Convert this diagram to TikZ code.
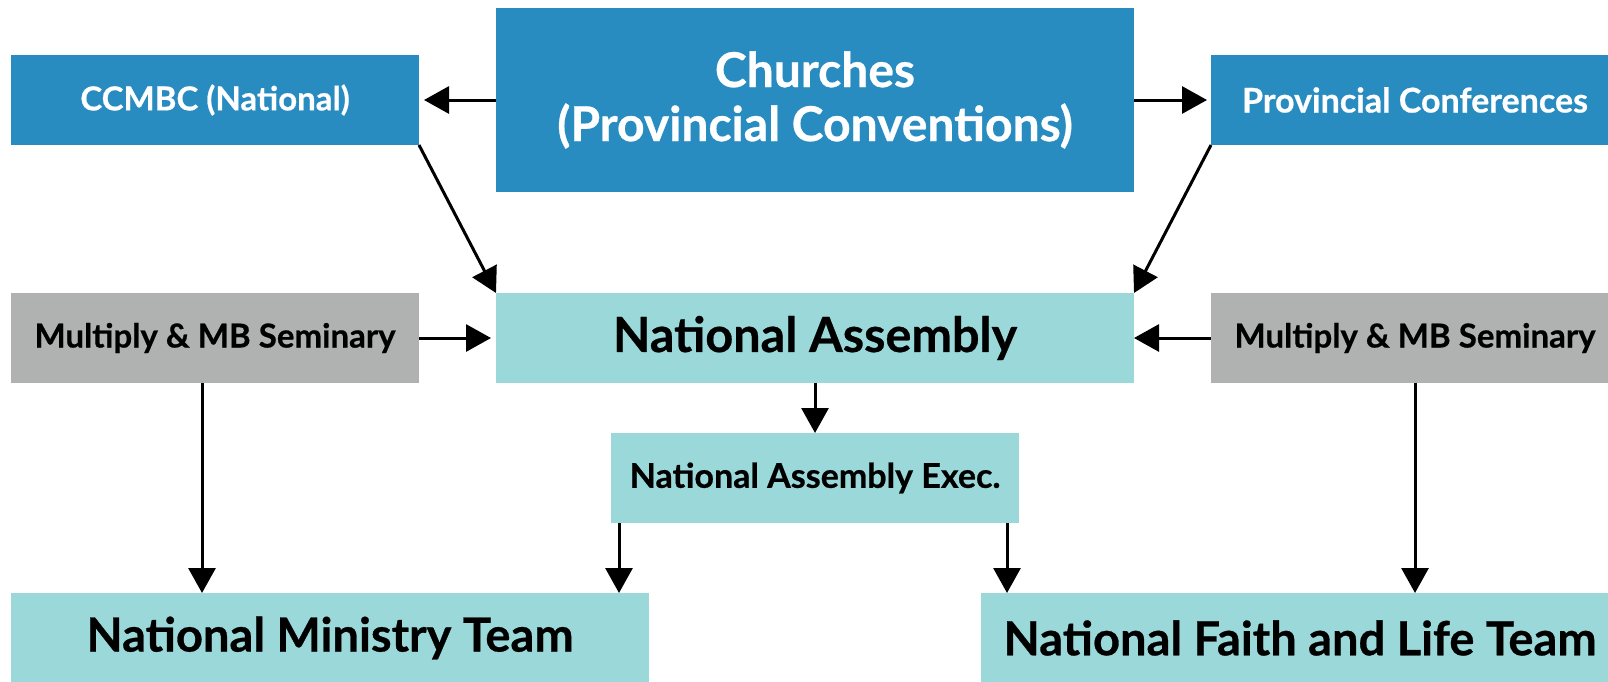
\documentclass[tikz,border=0pt]{standalone}
\usepackage{fontspec}
\setmainfont{Lato}[BoldFeatures={FakeBold=0.6}]
\usetikzlibrary{arrows.meta,calc}
\definecolor{blueBox}{HTML}{298CC1}
\definecolor{tealBox}{HTML}{9BD8D9}
\definecolor{grayBox}{HTML}{B0B1B1}
\begin{document}
\begin{tikzpicture}[x=1pt,y=-1pt,
  box/.style={inner sep=0pt, outer sep=0pt, anchor=north west, align=center,
    minimum width=408pt, minimum height=90pt},
  wide/.style={minimum width=638pt},
  bluebox/.style={box, fill=blueBox, text=white},
  tealbox/.style={box, fill=tealBox, text=black},
  graybox/.style={box, fill=grayBox, text=black},
  bigtxt/.style={font=\fontsize{47}{54}\selectfont\bfseries},
  smalltxt/.style={font=\fontsize{33}{38}\selectfont\bfseries},
  smalltxtwide/.style={font=\fontsize{34}{38}\selectfont\bfseries},
  arr/.style={line width=3pt, -{Triangle[length=25pt,width=27pt]}}]
\clip (0,0) rectangle (1608,681);

% top row
\node[bluebox, wide, minimum height=184pt, font=\fontsize{48}{54}\selectfont\bfseries]
  (churches) at (496,8) {Churches\\(Provincial Conventions)};
\node[bluebox, smalltxt] (ccmbc) at (11,55) {CCMBC (National)};
\node[bluebox, smalltxtwide] (prov) at (1211,55) {Provincial Conferences};

% middle row
\node[graybox, smalltxt] (semL) at (11,293) {Multiply \& MB Seminary};
\node[tealbox, wide, font=\fontsize{48.5}{54}\selectfont\bfseries]
  (assembly) at (496,293) {National Assembly};
\node[graybox, smalltxt] (semR) at (1211,293) {Multiply \& MB Seminary};

\node[tealbox, smalltxtwide] (exec) at (611,433) {National Assembly Exec.};

% bottom row
\node[tealbox, wide, bigtxt] (ministry) at (11,593) {National Ministry Team};
\node[tealbox, wide, bigtxt] (faith) at (981,593) {National Faith and Life Team};

% connectors
\draw[arr, shorten >=5pt] (churches.west |- ccmbc.east) -- (ccmbc.east);
\draw[arr, shorten >=4pt] (churches.east |- prov.west) -- (prov.west);
\draw[arr] (ccmbc.south east) -- (assembly.north west);
\draw[arr] (prov.south west) -- (assembly.north east);
\draw[arr, shorten >=5pt] (semL.east) -- (assembly.west);
\draw[arr] (semR.west) -- (assembly.east);
\draw[arr] (assembly.south) -- (exec.north -| assembly.south);

\coordinate (semLfoot) at ($(semL.south)+(-13,0)$);
\coordinate (semRfoot) at (semR.south);
\draw[arr] (semLfoot) -- (semLfoot |- ministry.north);
\draw[arr] (semRfoot) -- (semRfoot |- faith.north);

\coordinate (execL) at ($(exec.south west)+(8,0)$);
\coordinate (execR) at ($(exec.south east)+(-12,0)$);
\draw[arr] (execL) -- (execL |- ministry.north);
\draw[arr] (execR) -- (execR |- faith.north);
\end{tikzpicture}
\end{document}
